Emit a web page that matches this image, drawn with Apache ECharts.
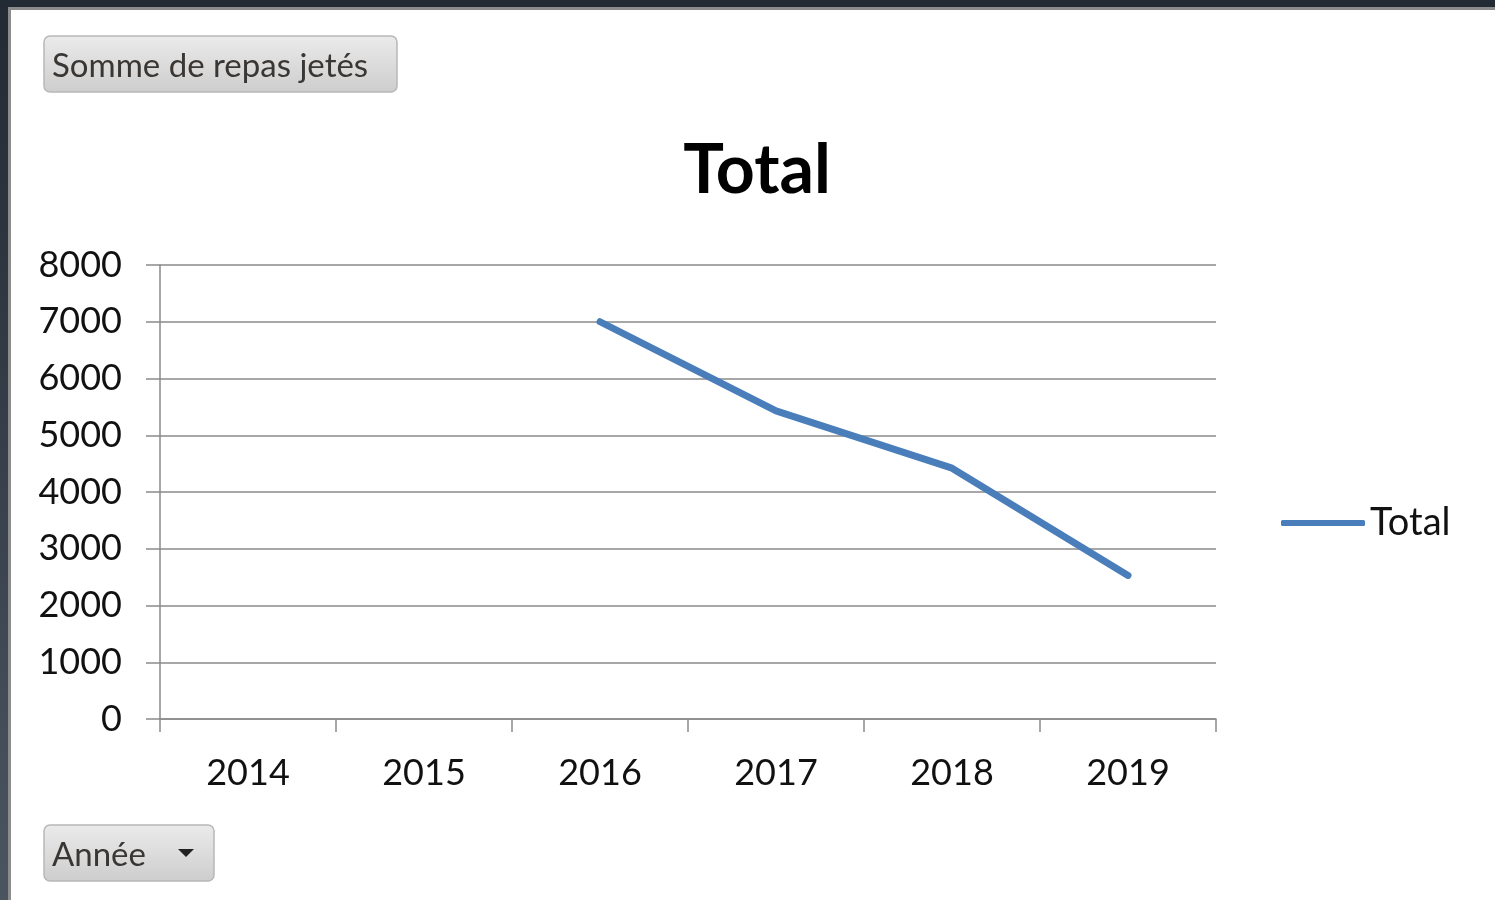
<!DOCTYPE html>
<html>
<head>
<meta charset="utf-8">
<script src="https://cdn.jsdelivr.net/npm/echarts@6/dist/echarts.min.js"></script>
<style>
  html, body { margin: 0; padding: 0; background: #ffffff; }
  #chart { width: 1495px; height: 900px; }
</style>
</head>
<body>
<div id="chart"></div>
<script>
// Pivot chart: sum of wasted meals per year
const years = ['2014', '2015', '2016', '2017', '2018', '2019'];
const totals = [null, null, 7000, 5430, 4420, 2530];
const yTicks = { min: 0, max: 8000, interval: 1000 };

const FONT = 'Lato, "Open Sans", sans-serif';
const GRID_GRAY = '#8a8a8a';

function button(x, y, w, h, label, withArrow) {
  const els = [{
    type: 'rect',
    shape: { x: x, y: y, width: w, height: h, r: 6 },
    style: {
      fill: new echarts.graphic.LinearGradient(0, 0, 0, 1, [
        { offset: 0, color: '#ebebeb' },
        { offset: 1, color: '#cdcdcd' }
      ]),
      stroke: '#b8b8b8',
      lineWidth: 1.5
    }
  }, {
    type: 'text',
    x: x + 8,
    y: y + h / 2 + 2,
    style: {
      text: label,
      font: '33px ' + FONT,
      fill: '#3a3633',
      verticalAlign: 'middle'
    }
  }];
  if (withArrow) {
    els.push({
      type: 'polygon',
      shape: { points: [[x + w - 36, y + h / 2 - 4], [x + w - 20, y + h / 2 - 4], [x + w - 28, y + h / 2 + 4]] },
      style: { fill: '#222' }
    });
  }
  return els;
}

const chart = echarts.init(document.getElementById('chart'), null, { renderer: 'canvas' });

chart.setOption({
  backgroundColor: '#ffffff',
  animation: false,
  title: {
    text: 'Total',
    left: 752,
    textAlign: 'center',
    top: 132,
    textStyle: { fontFamily: FONT, fontWeight: 'bold', fontSize: 68, color: '#000' }
  },
  legend: {
    data: ['Total'],
    left: 1276,
    top: 499,
    icon: 'roundRect',
    itemWidth: 84,
    itemHeight: 6,
    textStyle: { fontFamily: FONT, fontSize: 38, color: '#111' }
  },
  grid: { left: 160, right: 279, top: 265, bottom: 181, containLabel: false },
  xAxis: {
    type: 'category',
    data: years,
    boundaryGap: true,
    axisLine: { lineStyle: { color: GRID_GRAY, width: 1.5 } },
    axisTick: { show: true, interval: 0, length: 13, lineStyle: { color: GRID_GRAY, width: 1.5 } },
    axisLabel: { margin: 36, fontFamily: FONT, fontSize: 36, color: '#111', interval: 0 },
    splitLine: { show: false }
  },
  yAxis: {
    type: 'value',
    min: yTicks.min,
    max: yTicks.max,
    interval: yTicks.interval,
    axisLine: { show: true, lineStyle: { color: GRID_GRAY, width: 1.5 } },
    axisTick: { show: true, length: 14, lineStyle: { color: GRID_GRAY, width: 1.5 } },
    axisLabel: { margin: 38, fontFamily: FONT, fontSize: 36, color: '#111', formatter: v => String(v) },
    splitLine: { show: true, lineStyle: { color: GRID_GRAY, width: 1.5 } }
  },
  series: [{
    name: 'Total',
    type: 'line',
    data: totals,
    symbol: 'none',
    showSymbol: false,
    connectNulls: false,
    itemStyle: { color: '#4a7ebb' },
    lineStyle: { color: '#4a7ebb', width: 7, cap: 'round', join: 'round' }
  }],
  graphic: [
    // window frame: dark band along the top and left edges
    { type: 'rect', shape: { x: 0, y: 0, width: 1495, height: 8 }, style: { fill: '#222a33' }, z: 100 },
    { type: 'rect', shape: { x: 0, y: 7, width: 1495, height: 3 }, style: { fill: '#8c8c8c' }, z: 100 },
    { type: 'rect', shape: { x: 0, y: 0, width: 8, height: 900 },
      style: { fill: new echarts.graphic.LinearGradient(0, 0, 0, 1, [
        { offset: 0, color: '#222a33' }, { offset: 1, color: '#4b5560' }
      ]) }, z: 100 },
    { type: 'rect', shape: { x: 8, y: 8, width: 3, height: 892 }, style: { fill: '#8c8c8c' }, z: 100 },
    ...button(44, 36, 353, 56, 'Somme de repas jetés', false),
    ...button(44, 825, 170, 56, 'Année', true)
  ]
});
</script>
</body>
</html>
